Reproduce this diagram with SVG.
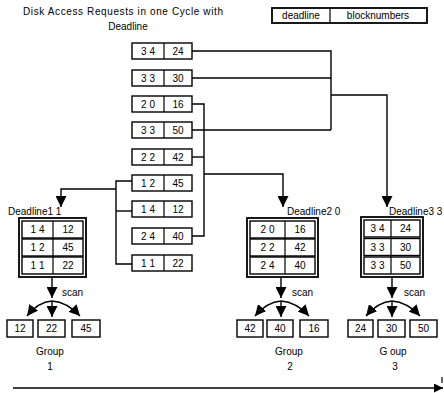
<svg xmlns="http://www.w3.org/2000/svg" width="444" height="393" viewBox="0 0 444 393">
  <defs>
    <style>
      .t { font-family: "Liberation Sans", Arial, sans-serif; font-size: 10px; fill: #000; }
      .c { text-anchor: middle; }
      .box { fill: #fff; stroke: #000; stroke-width: 1.4; }
      .frame { fill: #fff; stroke: #000; stroke-width: 1.8; }
      .sep { stroke: #000; stroke-width: 1.2; }
      .wire { fill: none; stroke: #000; stroke-width: 1.4; }
    </style>
    <marker id="head" viewBox="0 0 10 10" refX="10" refY="5" markerWidth="11" markerHeight="11" markerUnits="userSpaceOnUse" orient="auto">
      <path d="M0,0 L10,5 L0,10 z" fill="#000"/>
    </marker>
    <marker id="headSmall" viewBox="0 0 10 10" refX="10" refY="5" markerWidth="9" markerHeight="9" markerUnits="userSpaceOnUse" orient="auto">
      <path d="M0,0 L10,5 L0,10 z" fill="#000"/>
    </marker>
  </defs>

  <rect width="444" height="393" fill="#fff"/>

  <!-- title -->
  <g id="title">
    <text class="t c" x="123" y="15" textLength="200">Disk Access Requests in one Cycle with</text>
    <text class="t c" x="128" y="30">Deadline</text>
  </g>

  <!-- legend -->
  <g id="legend">
    <rect class="frame" x="272" y="8" width="155" height="15"/>
    <line class="sep" x1="330" y1="8" x2="330" y2="23"/>
    <text class="t c" x="301" y="19">deadline</text>
    <text class="t c" x="378" y="19">blocknumbers</text>
  </g>

  <!-- connectors -->
  <g id="connectors">
    <!-- requests with deadline 33/34 -->
    <path class="wire" d="M192,51 H331 V130"/>
    <path class="wire" d="M192,78 H331"/>
    <path class="wire" d="M192,130 H331"/>
    <path class="wire" d="M331,95 H387 V207" marker-end="url(#head)"/>
    <!-- requests with deadline 20/22/24 -->
    <path class="wire" d="M192,104 H204 V236 H192"/>
    <path class="wire" d="M192,157 H204"/>
    <path class="wire" d="M204,174 H283 V207" marker-end="url(#head)"/>
    <!-- requests with deadline 11/12/14 -->
    <path class="wire" d="M132,181 H116 V264 H132"/>
    <path class="wire" d="M116,211 H132"/>
    <path class="wire" d="M116,189 H61 V207" marker-end="url(#head)"/>

    <!-- scan fans -->
    <path class="wire" d="M52,277 V298" marker-end="url(#head)"/>
    <path class="wire" d="M52,301 Q38,302 27,316" marker-end="url(#head)"/>
    <path class="wire" d="M52,301 V317" marker-end="url(#head)"/>
    <path class="wire" d="M52,301 Q67,302 80,316" marker-end="url(#head)"/>

    <path class="wire" d="M281,277 V298" marker-end="url(#head)"/>
    <path class="wire" d="M281,301 Q267,302 255,316" marker-end="url(#head)"/>
    <path class="wire" d="M281,301 V317" marker-end="url(#head)"/>
    <path class="wire" d="M281,301 Q296,302 309,316" marker-end="url(#head)"/>

    <path class="wire" d="M392,277 V298" marker-end="url(#head)"/>
    <path class="wire" d="M392,301 Q378,302 366,316" marker-end="url(#head)"/>
    <path class="wire" d="M392,301 V317" marker-end="url(#head)"/>
    <path class="wire" d="M392,301 Q407,302 420,316" marker-end="url(#head)"/>

    <!-- time axis -->
    <path class="wire" d="M13,388 H443" marker-end="url(#headSmall)"/>
    <line class="sep" x1="442" y1="377" x2="442" y2="383"/>
  </g>

  <!-- request list -->
  <g id="req-34-24">
    <rect class="box" x="132" y="43" width="60" height="16"/>
    <line class="sep" x1="164" y1="43" x2="164" y2="59"/>
    <text class="t c" x="148" y="55">3 4</text><text class="t c" x="178" y="55">24</text>
  </g>
  <g id="req-33-30">
    <rect class="box" x="132" y="70" width="60" height="16"/>
    <line class="sep" x1="164" y1="70" x2="164" y2="86"/>
    <text class="t c" x="148" y="82">3 3</text><text class="t c" x="178" y="82">30</text>
  </g>
  <g id="req-20-16">
    <rect class="box" x="132" y="96" width="60" height="16"/>
    <line class="sep" x1="164" y1="96" x2="164" y2="112"/>
    <text class="t c" x="148" y="108">2 0</text><text class="t c" x="178" y="108">16</text>
  </g>
  <g id="req-33-50">
    <rect class="box" x="132" y="122" width="60" height="16"/>
    <line class="sep" x1="164" y1="122" x2="164" y2="138"/>
    <text class="t c" x="148" y="134">3 3</text><text class="t c" x="178" y="134">50</text>
  </g>
  <g id="req-22-42">
    <rect class="box" x="132" y="149" width="60" height="16"/>
    <line class="sep" x1="164" y1="149" x2="164" y2="165"/>
    <text class="t c" x="148" y="161">2 2</text><text class="t c" x="178" y="161">42</text>
  </g>
  <g id="req-12-45">
    <rect class="box" x="132" y="175" width="60" height="16"/>
    <line class="sep" x1="164" y1="175" x2="164" y2="191"/>
    <text class="t c" x="148" y="187">1 2</text><text class="t c" x="178" y="187">45</text>
  </g>
  <g id="req-14-12">
    <rect class="box" x="132" y="201" width="60" height="16"/>
    <line class="sep" x1="164" y1="201" x2="164" y2="217"/>
    <text class="t c" x="148" y="213">1 4</text><text class="t c" x="178" y="213">12</text>
  </g>
  <g id="req-24-40">
    <rect class="box" x="132" y="228" width="60" height="16"/>
    <line class="sep" x1="164" y1="228" x2="164" y2="244"/>
    <text class="t c" x="148" y="240">2 4</text><text class="t c" x="178" y="240">40</text>
  </g>
  <g id="req-11-22">
    <rect class="box" x="132" y="255" width="60" height="16"/>
    <line class="sep" x1="164" y1="255" x2="164" y2="271"/>
    <text class="t c" x="148" y="267">1 1</text><text class="t c" x="178" y="267">22</text>
  </g>

  <!-- deadline group 1 -->
  <g id="deadline1">
    <text class="t" x="8" y="215">Deadline1 1</text>
    <rect class="frame" x="19" y="218" width="67" height="59"/>
    <rect class="box" x="22" y="221" width="61" height="17"/>
    <rect class="box" x="22" y="239" width="61" height="17"/>
    <rect class="box" x="22" y="257" width="61" height="17"/>
    <line class="sep" x1="53" y1="221" x2="53" y2="274"/>
    <text class="t c" x="37.5" y="233">1 4</text><text class="t c" x="68" y="233">12</text>
    <text class="t c" x="37.5" y="251">1 2</text><text class="t c" x="68" y="251">45</text>
    <text class="t c" x="37.5" y="269">1 1</text><text class="t c" x="68" y="269">22</text>
  </g>

  <!-- deadline group 2 -->
  <g id="deadline2">
    <text class="t" x="287" y="215">Deadline2 0</text>
    <rect class="frame" x="247" y="218" width="71" height="59"/>
    <rect class="box" x="250" y="221" width="65" height="17"/>
    <rect class="box" x="250" y="239" width="65" height="17"/>
    <rect class="box" x="250" y="257" width="65" height="17"/>
    <line class="sep" x1="285" y1="221" x2="285" y2="274"/>
    <text class="t c" x="267.5" y="233">2 0</text><text class="t c" x="300" y="233">16</text>
    <text class="t c" x="267.5" y="251">2 2</text><text class="t c" x="300" y="251">42</text>
    <text class="t c" x="267.5" y="269">2 4</text><text class="t c" x="300" y="269">40</text>
  </g>

  <!-- deadline group 3 -->
  <g id="deadline3">
    <text class="t" x="389" y="215">Deadline3 3</text>
    <rect class="frame" x="361" y="217" width="62" height="60"/>
    <rect class="box" x="364" y="220" width="56" height="17"/>
    <rect class="box" x="364" y="238.5" width="56" height="17"/>
    <rect class="box" x="364" y="257" width="56" height="17"/>
    <line class="sep" x1="391" y1="220" x2="391" y2="274"/>
    <text class="t c" x="377.5" y="232">3 4</text><text class="t c" x="405.5" y="232">24</text>
    <text class="t c" x="377.5" y="250.5">3 3</text><text class="t c" x="405.5" y="250.5">30</text>
    <text class="t c" x="377.5" y="269">3 3</text><text class="t c" x="405.5" y="269">50</text>
  </g>

  <!-- scan labels -->
  <g id="scan-labels">
    <text class="t" x="62" y="296">scan</text>
    <text class="t" x="292" y="296">scan</text>
    <text class="t" x="404" y="296">scan</text>
  </g>

  <!-- scan results -->
  <g id="group1">
    <rect class="box" x="7" y="320" width="26" height="17"/>
    <rect class="box" x="38" y="320" width="27" height="17"/>
    <rect class="box" x="72" y="320" width="28" height="17"/>
    <text class="t c" x="20" y="332">12</text>
    <text class="t c" x="51.5" y="332">22</text>
    <text class="t c" x="86" y="332">45</text>
    <text class="t c" x="50" y="355">Group</text>
    <text class="t c" x="50" y="370">1</text>
  </g>
  <g id="group2">
    <rect class="box" x="237" y="320" width="26" height="17"/>
    <rect class="box" x="267" y="320" width="26" height="17"/>
    <rect class="box" x="300" y="320" width="28" height="17"/>
    <text class="t c" x="250" y="332">42</text>
    <text class="t c" x="280" y="332">40</text>
    <text class="t c" x="314" y="332">16</text>
    <text class="t c" x="289" y="355">Group</text>
    <text class="t c" x="290" y="370">2</text>
  </g>
  <g id="group3">
    <rect class="box" x="348" y="320" width="25" height="17"/>
    <rect class="box" x="378" y="320" width="27" height="17"/>
    <rect class="box" x="410" y="320" width="27" height="17"/>
    <text class="t c" x="360.5" y="332">24</text>
    <text class="t c" x="391.5" y="332">30</text>
    <text class="t c" x="423.5" y="332">50</text>
    <text class="t c" x="393" y="355">G oup</text>
    <text class="t c" x="395" y="370">3</text>
  </g>
</svg>
